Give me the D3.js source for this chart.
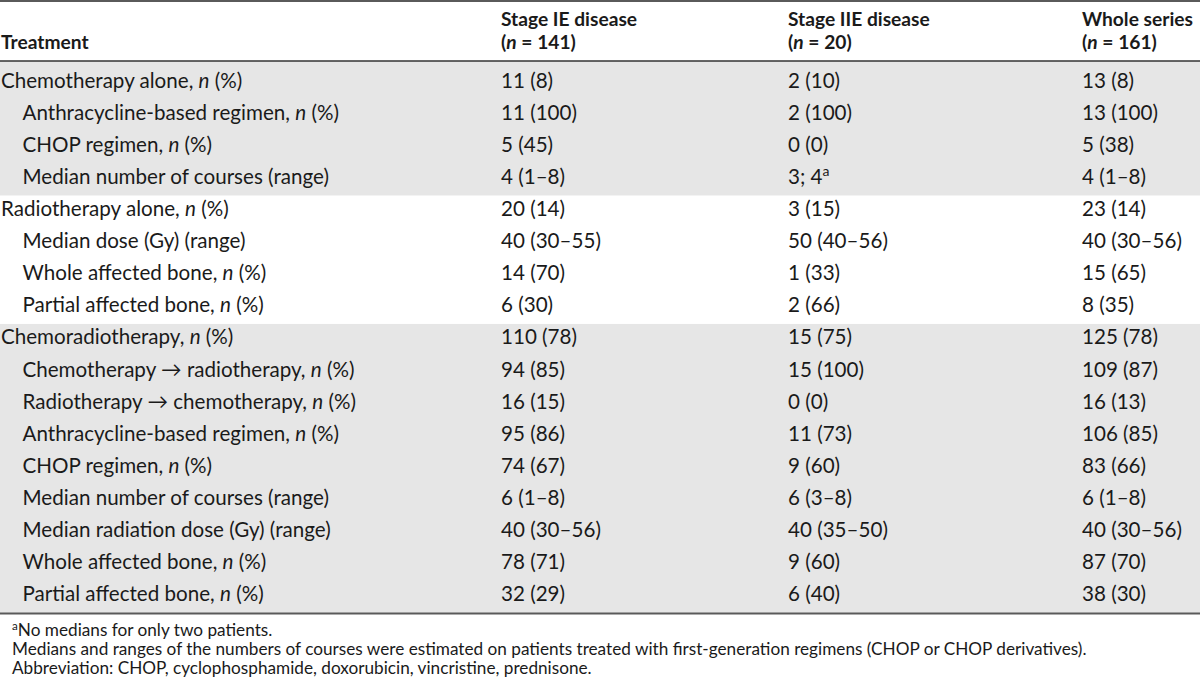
<!DOCTYPE html>
<html>
<head>
<meta charset="utf-8">
<script src="https://cdn.jsdelivr.net/npm/d3@7"></script>
<style>
  html, body { margin: 0; padding: 0; background: #fff; }
  svg { display: block; }
  text { font-family: Lato, "Open Sans", sans-serif; fill: #1a1a1a; }
</style>
</head>
<body>
<svg id="chart" width="1200" height="683"></svg>
<script>
// ---- data ----
const columnHeaders1 = ["Treatment", "Stage IE disease", "Stage IIE disease", "Whole series"];
const columnHeaders2 = ["", "(*n* = 141)", "(*n* = 20)", "(*n* = 161)"];

const rowLabels = [
  "Chemotherapy alone, *n* (%)",
  "Anthracycline-based regimen, *n* (%)",
  "CHOP regimen, *n* (%)",
  "Median number of courses (range)",
  "Radiotherapy alone, *n* (%)",
  "Median dose (Gy) (range)",
  "Whole affected bone, *n* (%)",
  "Partial affected bone, *n* (%)",
  "Chemoradiotherapy, *n* (%)",
  "Chemotherapy \u2192 radiotherapy, *n* (%)",
  "Radiotherapy \u2192 chemotherapy, *n* (%)",
  "Anthracycline-based regimen, *n* (%)",
  "CHOP regimen, *n* (%)",
  "Median number of courses (range)",
  "Median radiation dose (Gy) (range)",
  "Whole affected bone, *n* (%)",
  "Partial affected bone, *n* (%)"
];
const rowIndent = [0,1,1,1, 0,1,1,1, 0,1,1,1,1,1,1,1,1];
const rowGroup  = [0,0,0,0, 1,1,1,1, 2,2,2,2,2,2,2,2,2];

const stageIE = ["11 (8)","11 (100)","5 (45)","4 (1\u20138)","20 (14)","40 (30\u201355)","14 (70)","6 (30)",
  "110 (78)","94 (85)","16 (15)","95 (86)","74 (67)","6 (1\u20138)","40 (30\u201356)","78 (71)","32 (29)"];
const stageIIE = ["2 (10)","2 (100)","0 (0)","3; 4^a","3 (15)","50 (40\u201356)","1 (33)","2 (66)",
  "15 (75)","15 (100)","0 (0)","11 (73)","9 (60)","6 (3\u20138)","40 (35\u201350)","9 (60)","6 (40)"];
const wholeSeries = ["13 (8)","13 (100)","5 (38)","4 (1\u20138)","23 (14)","40 (30\u201356)","15 (65)","8 (35)",
  "125 (78)","109 (87)","16 (13)","106 (85)","83 (66)","6 (1\u20138)","40 (30\u201356)","87 (70)","38 (30)"];

const footnotes = [
  "^a^No medians for only two patients.",
  "Medians and ranges of the numbers of courses were estimated on patients treated with first-generation regimens (CHOP or CHOP derivatives).",
  "Abbreviation: CHOP, cyclophosphamide, doxorubicin, vincristine, prednisone."
];

// ---- layout ----
const svg = d3.select("#chart");
const W = 1200;
const bodyFont = 20.6;
const hdrFont = 19.2;
const footFont = 17.2;

const colX = d3.scaleOrdinal().domain([0,1,2,3]).range([1, 501, 788, 1082]);
const rowY = d3.scaleBand().domain(d3.range(rowLabels.length)).range([67, 613]).paddingInner(0).paddingOuter(0);

function addRich(sel, str, size) {
  const parts = [];
  const re = /(\*[^*]+\*|\^[^\^\s]+\^?)/g;
  let last = 0, m;
  while ((m = re.exec(str)) !== null) {
    if (m.index > last) parts.push({t: str.slice(last, m.index), s: "n"});
    const tok = m[0];
    if (tok[0] === "*") parts.push({t: tok.slice(1, -1), s: "i"});
    else parts.push({t: tok.replace(/\^/g, ""), s: "sup"});
    last = m.index + tok.length;
  }
  if (last < str.length) parts.push({t: str.slice(last), s: "n"});
  let prevSup = false;
  parts.forEach(p => {
    const ts = sel.append("tspan").text(p.t);
    if (p.s === "i") ts.attr("font-style", "italic");
    if (p.s === "sup") {
      ts.attr("font-size", size * 0.68).attr("dy", -size * 0.36);
      prevSup = true;
    } else if (prevSup) {
      ts.attr("dy", size * 0.36);
      prevSup = false;
    }
  });
}

// shaded groups
const groups = d3.groups(d3.range(rowLabels.length), i => rowGroup[i]);
svg.append("g").selectAll("rect")
  .data(groups.filter(g => g[0] !== 1))
  .join("rect")
  .attr("x", 0)
  .attr("width", W)
  .attr("y", g => g[0] === 0 ? 61 : rowY(g[1][0]))
  .attr("height", g => rowY(g[1][g[1].length - 1]) + rowY.bandwidth() - (g[0] === 0 ? 61 : rowY(g[1][0])))
  .attr("fill", "#e6e6e6");

// rules
svg.append("line").attr("x1", 0).attr("x2", W).attr("y1", 1).attr("y2", 1)
  .attr("stroke", "#5a5a5a").attr("stroke-width", 2);
svg.append("line").attr("x1", 0).attr("x2", W).attr("y1", 61).attr("y2", 61)
  .attr("stroke", "#333").attr("stroke-width", 1.5);
svg.append("line").attr("x1", 0).attr("x2", W).attr("y1", 613.5).attr("y2", 613.5)
  .attr("stroke", "#5a5a5a").attr("stroke-width", 2);

// headers
const hdr = svg.append("g").attr("font-weight", "bold").attr("font-size", hdrFont);
columnHeaders1.forEach((h, c) => {
  const y = c === 0 ? 49 : 25.5;
  hdr.append("text").attr("x", colX(c)).attr("y", y).text(h);
});
columnHeaders2.forEach((h, c) => {
  if (!h) return;
  const t = hdr.append("text").attr("x", colX(c)).attr("y", 48.5);
  addRich(t, h, hdrFont);
});

// body
const baseOff = 20.5;
const body = svg.append("g").attr("font-size", bodyFont);
body.selectAll("text.label")
  .data(rowLabels)
  .join("text")
  .attr("class", "label")
  .attr("x", (d, i) => colX(0) + (rowIndent[i] ? 21.5 : 0))
  .attr("y", (d, i) => rowY(i) + baseOff)
  .each(function(d) { addRich(d3.select(this), d, bodyFont); });

[stageIE, stageIIE, wholeSeries].forEach((col, ci) => {
  body.append("g").selectAll("text")
    .data(col)
    .join("text")
    .attr("x", colX(ci + 1))
    .attr("y", (d, i) => rowY(i) + baseOff)
    .each(function(d) { addRich(d3.select(this), d, bodyFont); });
});

// footnotes
const foot = svg.append("g").attr("font-size", footFont);
footnotes.forEach((f, i) => {
  const t = foot.append("text").attr("x", 12).attr("y", 636 + i * 19);
  addRich(t, f, footFont);
});
</script>
</body>
</html>
